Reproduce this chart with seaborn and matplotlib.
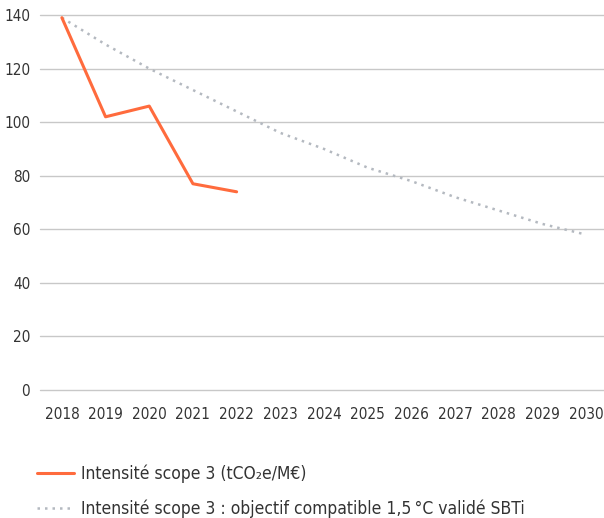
import pandas as pd
import matplotlib.pyplot as plt
import seaborn as sns

years_actual = [2018, 2019, 2020, 2021, 2022]
intensity_actual = [139, 102, 106, 77, 74]

years_target = [2018, 2019, 2020, 2021, 2022, 2023, 2024, 2025, 2026, 2027, 2028, 2029, 2030]
intensity_target = [139, 129, 120, 112, 104, 96, 90, 83, 78, 72, 67, 62, 58]

label_actual = "Intensité scope 3 (tCO\u2082e/M€)"
label_target = "Intensité scope 3 : objectif compatible 1,5\u2009°C validé SBTi"

sns.set_theme(style="white")
plt.rcParams['font.family'] = ['DejaVu Sans']
plt.rcParams['font.stretch'] = 'condensed'

fig = plt.figure(figsize=(6.04, 5.18), dpi=100)
ax = fig.add_axes([0.066, 0.2471, 0.934, 0.7239])

df_actual = pd.DataFrame({'Année': years_actual, 'Intensité': intensity_actual})
df_target = pd.DataFrame({'Année': years_target, 'Intensité': intensity_target})

sns.lineplot(data=df_target, x='Année', y='Intensité', ax=ax, color='#b4b9c0',
             linestyle=(0, (1, 2.0)), linewidth=1.8, label=label_target)
sns.lineplot(data=df_actual, x='Année', y='Intensité', ax=ax, color='#ff6b3d',
             linewidth=2.2, label=label_actual)

ax.set_xlim(2017.496, 2030.41)
ax.set_ylim(0, 140)
ax.set_xticks(years_target)
ax.set_xticklabels([str(y) for y in years_target])
ax.set_yticks(range(0, 141, 20))
ax.yaxis.grid(True, color='#c8c8c8', linewidth=1)
for gl in ax.yaxis.get_gridlines():
    gl.set_clip_on(False)
ax.xaxis.grid(False)
ax.set_axisbelow(True)
for s in ax.spines.values():
    s.set_visible(False)
ax.tick_params(axis='both', length=0, labelsize=11, colors='#333333')
ax.tick_params(axis='x', pad=12)
ax.tick_params(axis='y', pad=7)
ax.set_xlabel('')
ax.set_ylabel('')

handles, labels = ax.get_legend_handles_labels()
ax.get_legend().remove()
fig.legend(handles[::-1], labels[::-1], loc='upper left', bbox_to_anchor=(0.05, 0.116),
           frameon=False, fontsize=12.5, handlelength=2.1, handletextpad=0.45,
           labelspacing=0.95, labelcolor='#333333', borderaxespad=0)

fig.savefig('out.png', dpi=100)
